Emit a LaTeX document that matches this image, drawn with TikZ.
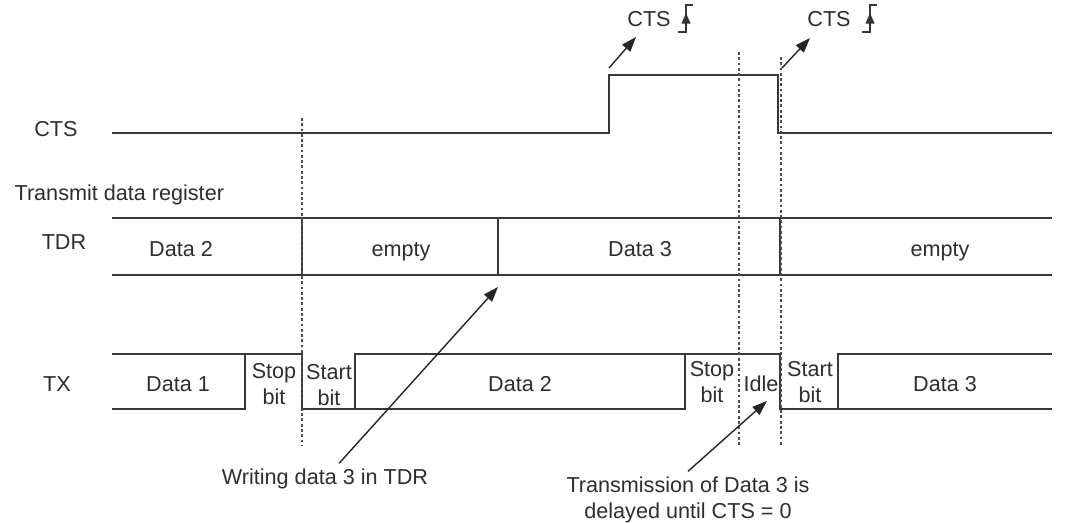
\documentclass[tikz,border=0pt]{standalone}
\usepackage{fontspec}
\setmainfont{Liberation Sans}
\usetikzlibrary{arrows.meta}
\tikzset{
  wave/.style={draw=black!78, line width=0.9pt},
  marker/.style={draw=black!70, line width=0.7pt, dash pattern=on 1.6pt off 1.4pt},
  arr/.style={draw=black!85, line width=0.8pt, -{Triangle[length=8.5pt,width=6pt]}},
  lbl/.style={text=black!82, font=\fontsize{12.3}{14.8}\selectfont, inner sep=3pt},
  bits/.style={lbl, align=center}
}
\begin{document}
\begin{tikzpicture}[x=0.02cm, y=-0.02cm]
            \useasboundingbox[fill=white] (0,0) rectangle (1082,522);
            % signal names
            \node[lbl] (ctslbl) at (56,129) {CTS};
            \node[lbl, anchor=west] (regtitle) at (9,195) {Transmit data register};
            \node[lbl] (tdrlbl) at (64,242) {TDR};
            \node[lbl] (txlbl) at (57,384) {TX};

            % CTS line
            \draw[wave] (112,133) -- (609,133) -- (609,75) -- (778,75) -- (778,133) -- (1052,133);

            % TDR
            \draw[wave] (112,218) -- (1052,218);
            \draw[wave] (112,275) -- (1052,275);
            \foreach \x in {302,498,780} \draw[wave] (\x,218) -- (\x,275);
            \node[lbl, anchor=base] (tdrdata2) at (181,256) {Data 2};
            \node[lbl, anchor=base] (tdrempty1) at (401,256) {empty};
            \node[lbl, anchor=base] (tdrdata3) at (640,256) {Data 3};
            \node[lbl, anchor=base] (tdrempty2) at (940,256) {empty};

            % TX
            \draw[wave] (112,354) -- (302,354) -- (302,409) -- (685,409) -- (685,354);
            \draw[wave] (112,409) -- (245,409) -- (245,354);
            \draw[wave] (355,409) -- (355,354) -- (780,354) -- (780,409) -- (1052,409);
            \draw[wave] (838,409) -- (838,354) -- (1052,354);
            \node[lbl] (txdata1) at (178,384) {Data 1};
            \node[bits] (txstop1) at (274,384) {Stop\\bit};
            \node[bits] (txstart1) at (329,385) {Start\\bit};
            \node[lbl] (txdata2) at (520,384) {Data 2};
            \node[bits] (txstop2) at (712,382) {Stop\\bit};
            \node[lbl] (txidle) at (761,384) {Idle};
            \node[bits] (txstart2) at (810,382) {Start\\bit};
            \node[lbl] (txdata3) at (945,384) {Data 3};

            % markers
            \draw[marker] (302,118) -- (302,445);
            \draw[marker] (739,52) -- (739,447);
            \draw[marker] (781,57) -- (781,447);

            % CTS edges
            \node[lbl] (ctsnote1) at (649,19) {CTS};
            \node[lbl] (ctsnote2) at (829,19) {CTS};
            \foreach \x in {686,870} {
              \draw[wave, line width=0.7pt] (\x-8,32) -- (\x,32) -- (\x,5) -- (\x+7,5);
              \draw[draw=black!80, line width=0.7pt, -{Triangle[length=6pt,width=5pt]}] (\x,32) -- (\x,13);
            }
            \coordinate (ctsrise) at (609,68);
            \coordinate (risetip) at (636,37);
            \coordinate (ctsfall) at (782,68);
            \coordinate (falltip) at (810,38);
            \draw[arr] (ctsrise) -- (risetip);
            \draw[arr] (ctsfall) -- (falltip);

            % notes
            \node[lbl] (wrnote) at (325,479) {Writing data 3 in TDR};
            \node[lbl, align=center] (delaynote) at (688,500) {Transmission of Data 3 is\\delayed until CTS = 0};
            \coordinate (wrtip) at (498,287);
            \coordinate (delaytip) at (767,401);
            \draw[arr] (wrnote) -- (wrtip);
            \draw[arr] (delaynote.north) -- (delaytip);
        \end{tikzpicture}
\end{document}
